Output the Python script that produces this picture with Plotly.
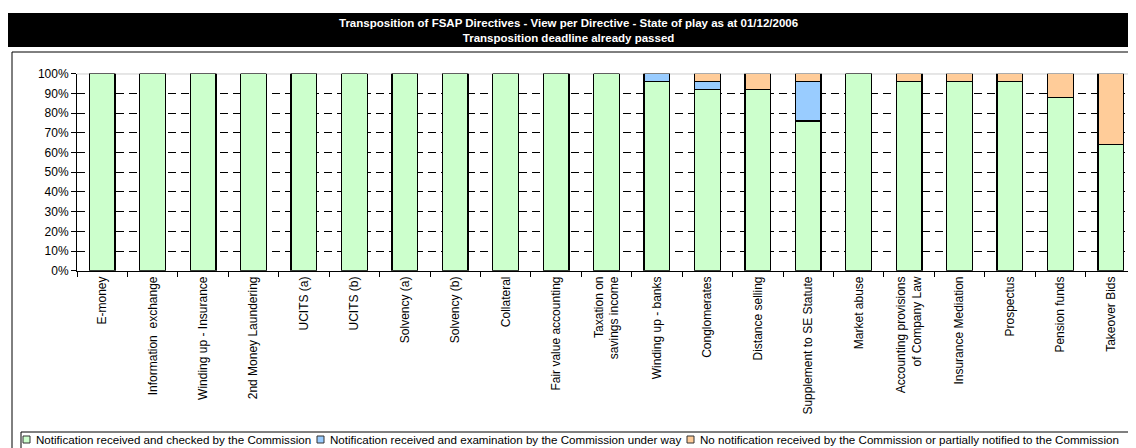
import plotly.graph_objects as go

# The page body has an 8px margin, so the figure is drawn at (8, 8) in the window.
OFF = 8
W, H = 1136 - OFF, 448 - OFF

categories = [
    "E-money", "Information  exchange", "Winding up - Insurance", "2nd Money Laundering",
    "UCITS (a)", "UCITS (b)", "Solvency (a)", "Solvency (b)", "Collateral",
    "Fair value accounting", "Taxation on<br>savings income", "Winding up - banks",
    "Conglomerates", "Distance selling", "Supplement to SE Statute", "Market abuse",
    "Accounting provisions<br>of Company Law", "Insurance Mediation", "Prospectus",
    "Pension funds", "Takeover Bids",
]
checked = [100, 100, 100, 100, 100, 100, 100, 100, 100, 100, 100, 96, 92, 92, 76, 100, 96, 96, 96, 88, 64]
under_way = [0, 0, 0, 0, 0, 0, 0, 0, 0, 0, 0, 4, 4, 0, 20, 0, 0, 0, 0, 0, 0]
not_notified = [0, 0, 0, 0, 0, 0, 0, 0, 0, 0, 0, 0, 4, 8, 4, 0, 4, 4, 4, 12, 36]

series_names = [
    "Notification received and checked by the Commission",
    "Notification received and examination by the Commission under way",
    "No notification received by the Commission or partially notified to the Commission",
]
series_values = [checked, under_way, not_notified]
series_colors = ["#CCFFCC", "#99CCFF", "#FFCC99"]
y_ticks = list(range(0, 101, 10))

title_text = ("Transposition of FSAP Directives - View per Directive - State of play as at 01/12/2006"
              "<br>Transposition deadline already passed")

FONT = "Liberation Sans, Arial, sans-serif"


def px_x(x):
    return (x - OFF) / W


def px_y(y):
    return 1 - (y - OFF) / H


fig = go.Figure()
for name, vals, color in zip(series_names, series_values, series_colors):
    fig.add_bar(
        x=categories, y=vals, name=name, width=0.51,
        marker=dict(color=color, line=dict(color="#000000", width=1.2)),
        showlegend=False,
    )

shapes = []
# title bar
shapes.append(dict(type="rect", xref="paper", yref="paper",
                   x0=px_x(0), x1=px_x(1145), y0=px_y(47), y1=px_y(13),
                   fillcolor="#000000", line=dict(width=0), layer="below"))
# outer frame
shapes.append(dict(type="rect", xref="paper", yref="paper",
                   x0=px_x(12), x1=px_x(1145), y0=px_y(460), y1=px_y(52),
                   fillcolor="rgba(0,0,0,0)", line=dict(color="#000000", width=1), layer="below"))
# top solid grey line at 100%
shapes.append(dict(type="line", xref="paper", yref="y",
                   x0=px_x(77), x1=1, y0=100, y1=100,
                   line=dict(color="#808080", width=1), layer="between"))
# legend box
shapes.append(dict(type="rect", xref="paper", yref="paper",
                   x0=px_x(21), x1=px_x(1145), y0=px_y(460), y1=px_y(432),
                   fillcolor="rgba(0,0,0,0)", line=dict(color="#000000", width=1), layer="below"))

annotations = [dict(
    text="<b>" + title_text + "</b>", xref="paper", yref="paper",
    x=px_x(568), y=px_y(30), xanchor="center", yanchor="middle", showarrow=False,
    font=dict(family="Liberation Sans Narrow, Arial Narrow, " + FONT, size=11.5, color="#FFFFFF"),
)]

# legend entries (manual, compact like the original)
leg_sq_x = [23, 317, 687]
leg_txt_x = [34, 328, 698]
for sx, tx, name, color in zip(leg_sq_x, leg_txt_x, series_names, series_colors):
    shapes.append(dict(type="rect", xref="paper", yref="paper",
                       x0=px_x(sx), x1=px_x(sx + 7), y0=px_y(443), y1=px_y(436),
                       fillcolor=color, line=dict(color="#333333", width=1), layer="above"))
    annotations.append(dict(
        text=name, xref="paper", yref="paper", x=px_x(tx), y=px_y(439.5),
        xanchor="left", yanchor="middle", showarrow=False,
        font=dict(family=FONT, size=11.6, color="#000000"),
    ))

fig.update_layout(
    width=W, height=H,
    margin=dict(l=0, r=0, t=0, b=0, pad=0),
    paper_bgcolor="#FFFFFF", plot_bgcolor="#FFFFFF",
    barmode="stack", bargap=0.49,
    font=dict(family=FONT, size=12, color="#000000"),
    shapes=shapes, annotations=annotations,
    xaxis=dict(
        domain=[px_x(77), 1], range=[-0.5, 20.5], type="category",
        showline=True, linecolor="#000000", linewidth=1,
        ticks="outside", tickson="boundaries", ticklen=5, tickcolor="#000000",
        tickangle=-90, tickfont=dict(size=12, family=FONT),
        showgrid=False, automargin=False,
    ),
    yaxis=dict(
        domain=[px_y(270.7), px_y(73.7)], range=[0, 100],
        tickvals=y_ticks, ticktext=[f"{v}%" for v in y_ticks],
        showline=True, linecolor="#000000", linewidth=1,
        ticks="outside", ticklen=5, tickcolor="#000000",
        tickfont=dict(size=12, family=FONT),
        showgrid=True, gridcolor="#000000", gridwidth=1, griddash="8px,5px",
        zeroline=False, automargin=False,
    ),
)

fig.write_html("out.html")
